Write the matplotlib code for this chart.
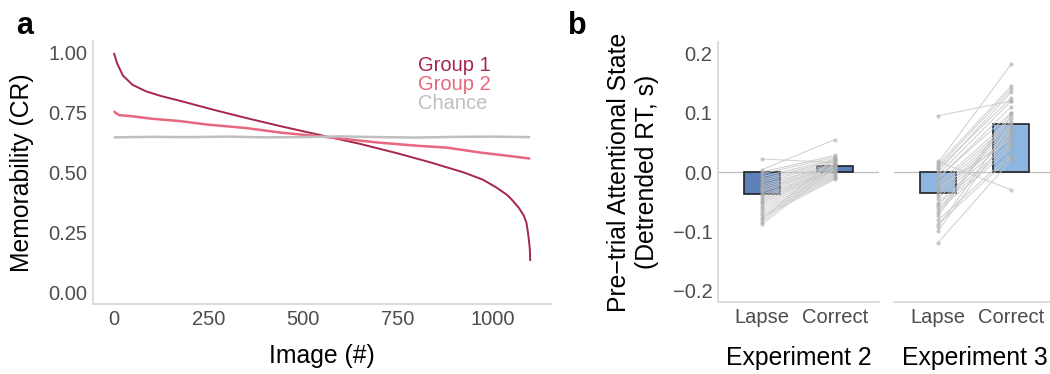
import numpy as np
import matplotlib
matplotlib.use("Agg")
from matplotlib import pyplot as plt

plt.rcParams['font.family'] = ['Liberation Sans', 'DejaVu Sans']

#---------------- panel a data ----------------
img_g1 = [1, 10, 25, 50, 85, 125, 175, 260, 350, 440, 550, 650, 750, 835,
          925, 975, 1010, 1040, 1055, 1070, 1083, 1090, 1094, 1097, 1099, 1100]
mem_g1 = [1.00, 0.955, 0.905, 0.867, 0.84, 0.82, 0.80, 0.764, 0.728, 0.694,
          0.655, 0.62, 0.58, 0.543, 0.50, 0.47, 0.438, 0.405, 0.38, 0.352,
          0.32, 0.29, 0.25, 0.21, 0.18, 0.13]

img_g2 = [1, 5, 15, 50, 100, 175, 250, 350, 440, 520, 600, 700, 800, 880,
          970, 1040, 1100]
mem_g2 = [0.757, 0.75, 0.74, 0.735, 0.725, 0.715, 0.70, 0.686, 0.667, 0.655,
          0.642, 0.625, 0.612, 0.604, 0.583, 0.57, 0.558]

img_ch = [1, 100, 200, 300, 400, 500, 600, 700, 800, 900, 1000, 1100]
mem_ch = [0.647, 0.649, 0.648, 0.650, 0.647, 0.648, 0.651, 0.648, 0.646,
          0.649, 0.650, 0.648]

series_names = ["Group 1", "Group 2", "Chance"]
series_cols = ["#A6264C", "#E8687F", "#BFBFBF"]

#---------------- panel b data ----------------
conditions = ["Lapse", "Correct"]
experiments = ["Experiment 2", "Experiment 3"]
bar_means = {"Experiment 2": [-0.037, 0.011],
             "Experiment 3": [-0.035, 0.082]}
bar_cols = {"Experiment 2": "#5D80B8", "Experiment 3": "#8DB5E1"}

exp2_lapse = [0.022, 0.004, 0.0, -0.003, -0.008, -0.012, -0.015, -0.018,
              -0.022, -0.025, -0.028, -0.031, -0.034, -0.038, -0.041, -0.044,
              -0.047, -0.05, -0.053, -0.057, -0.061, -0.065, -0.069, -0.073,
              -0.077, -0.08, -0.084, -0.088]
exp2_correct = [0.016, 0.055, 0.028, 0.025, 0.022, 0.02, 0.018, 0.015,
                0.013, 0.012, 0.01, 0.009, 0.008, 0.006, 0.005, 0.004,
                0.003, 0.002, 0.0, -0.002, -0.004, -0.006, -0.008, -0.01,
                -0.012, 0.024, 0.014, 0.007]
exp3_lapse = [0.095, 0.018, 0.015, 0.012, 0.008, 0.005, 0.0, -0.005, -0.01,
              -0.012, -0.02, -0.025, -0.03, -0.035, -0.04, -0.045, -0.052,
              -0.055, -0.06, -0.065, -0.07, -0.075, -0.082, -0.088, -0.093,
              -0.1, -0.12, -0.028]
exp3_correct = [0.12, -0.03, 0.182, 0.145, 0.14, 0.125, 0.135, 0.12, 0.1,
                0.11, 0.09, 0.085, 0.08, 0.075, 0.07, 0.065, 0.06, 0.05,
                0.045, 0.04, 0.1, 0.095, 0.03, 0.025, 0.08, 0.07, 0.02, 0.055]
subjects = {"Experiment 2": (exp2_lapse, exp2_correct),
            "Experiment 3": (exp3_lapse, exp3_correct)}

#---------------- style ----------------
tick_col = "#4D4D4D"
spine_col = "#D6D6D6"
tick_fs = 14.5
title_fs = 17.8

fig = plt.figure(figsize=(10.5, 3.74), dpi=100)


def style_axis(ax, left=True):
    for s in ["top", "right"]:
        ax.spines[s].set_visible(False)
    ax.spines["bottom"].set_color(spine_col)
    ax.spines["bottom"].set_linewidth(1.2)
    if left:
        ax.spines["left"].set_color(spine_col)
        ax.spines["left"].set_linewidth(1.2)
    else:
        ax.spines["left"].set_visible(False)
    ax.tick_params(length=0, labelsize=tick_fs, labelcolor=tick_col, pad=4)


#---------------- panel a ----------------
axa = fig.add_axes([0.0886, 0.1872, 0.4362, 0.7032])
style_axis(axa)
for xs, ys, name, col, lw in zip([img_g1, img_g2, img_ch], [mem_g1, mem_g2, mem_ch],
                                 series_names, series_cols, [1.4, 1.8, 1.8]):
    axa.plot(xs, ys, color=col, lw=lw, solid_capstyle="butt")
axa.set_xlim(-54, 1155)
axa.set_ylim(-0.05, 1.05)
axa.set_xticks([0, 250, 500, 750, 1000])
axa.set_yticks([0, 0.25, 0.5, 0.75, 1.0])
axa.set_yticklabels(["0.00", "0.25", "0.50", "0.75", "1.00"])
for name, col, yy in zip(series_names, series_cols, [0.946, 0.867, 0.79]):
    axa.text(804, yy, name, color=col, fontsize=14.5, ha="left", va="center")

fig.text(0.021, 0.1872 + 0.7032 / 2, "Memorability (CR)", rotation=90,
         ha="center", va="center", fontsize=title_fs)
fig.text(0.3067, 0.048, "Image (#)", ha="center", va="center", fontsize=title_fs)
fig.text(0.015, 0.908, "a", fontsize=22, fontweight="bold", ha="left", va="baseline")

#---------------- panel b ----------------
lefts = [0.6838, 0.8514]
for i, exp in enumerate(experiments):
    ax = fig.add_axes([lefts[i], 0.1925, 0.1533, 0.6952])
    style_axis(ax, left=(i == 0))
    pos = np.arange(1, len(conditions) + 1)
    ax.axhline(0, color="#BDBDBD", lw=0.9, zorder=1)
    ax.bar(pos, bar_means[exp], width=0.5, color=bar_cols[exp],
           edgecolor="#222222", linewidth=1.2, zorder=2)
    lapse, correct = subjects[exp]
    for a, c in zip(lapse, correct):
        ax.plot(pos, [a, c], color="#C8C8C8", lw=0.8, alpha=0.8, zorder=3)
    ax.scatter(np.full(len(lapse), pos[0]), lapse, s=9, color="#AAAAAA",
               alpha=0.6, lw=0, zorder=4)
    ax.scatter(np.full(len(correct), pos[1]), correct, s=9, color="#AAAAAA",
               alpha=0.6, lw=0, zorder=4)
    ax.set_xlim(0.4, 2.6)
    ax.set_ylim(-0.22, 0.22)
    ax.set_xticks(pos)
    ax.set_xticklabels(conditions)
    ax.set_yticks([-0.2, -0.1, 0.0, 0.1, 0.2])
    if i == 0:
        ax.set_yticklabels(["\u22120.2", "\u22120.1", "0.0", "0.1", "0.2"])
    else:
        ax.set_yticklabels([])
    fig.text(lefts[i] + 0.1533 / 2, 0.043, exp, ha="center", va="center",
             fontsize=title_fs)

fig.text(0.603, 0.1925 + 0.6952 / 2,
         "Pre\u2212trial Attentional State\n(Detrended RT, s)", rotation=90,
         ha="center", va="center", fontsize=title_fs, linespacing=1.2)
fig.text(0.541, 0.908, "b", fontsize=22, fontweight="bold", ha="left", va="baseline")

fig.savefig("out.png", dpi=100)
